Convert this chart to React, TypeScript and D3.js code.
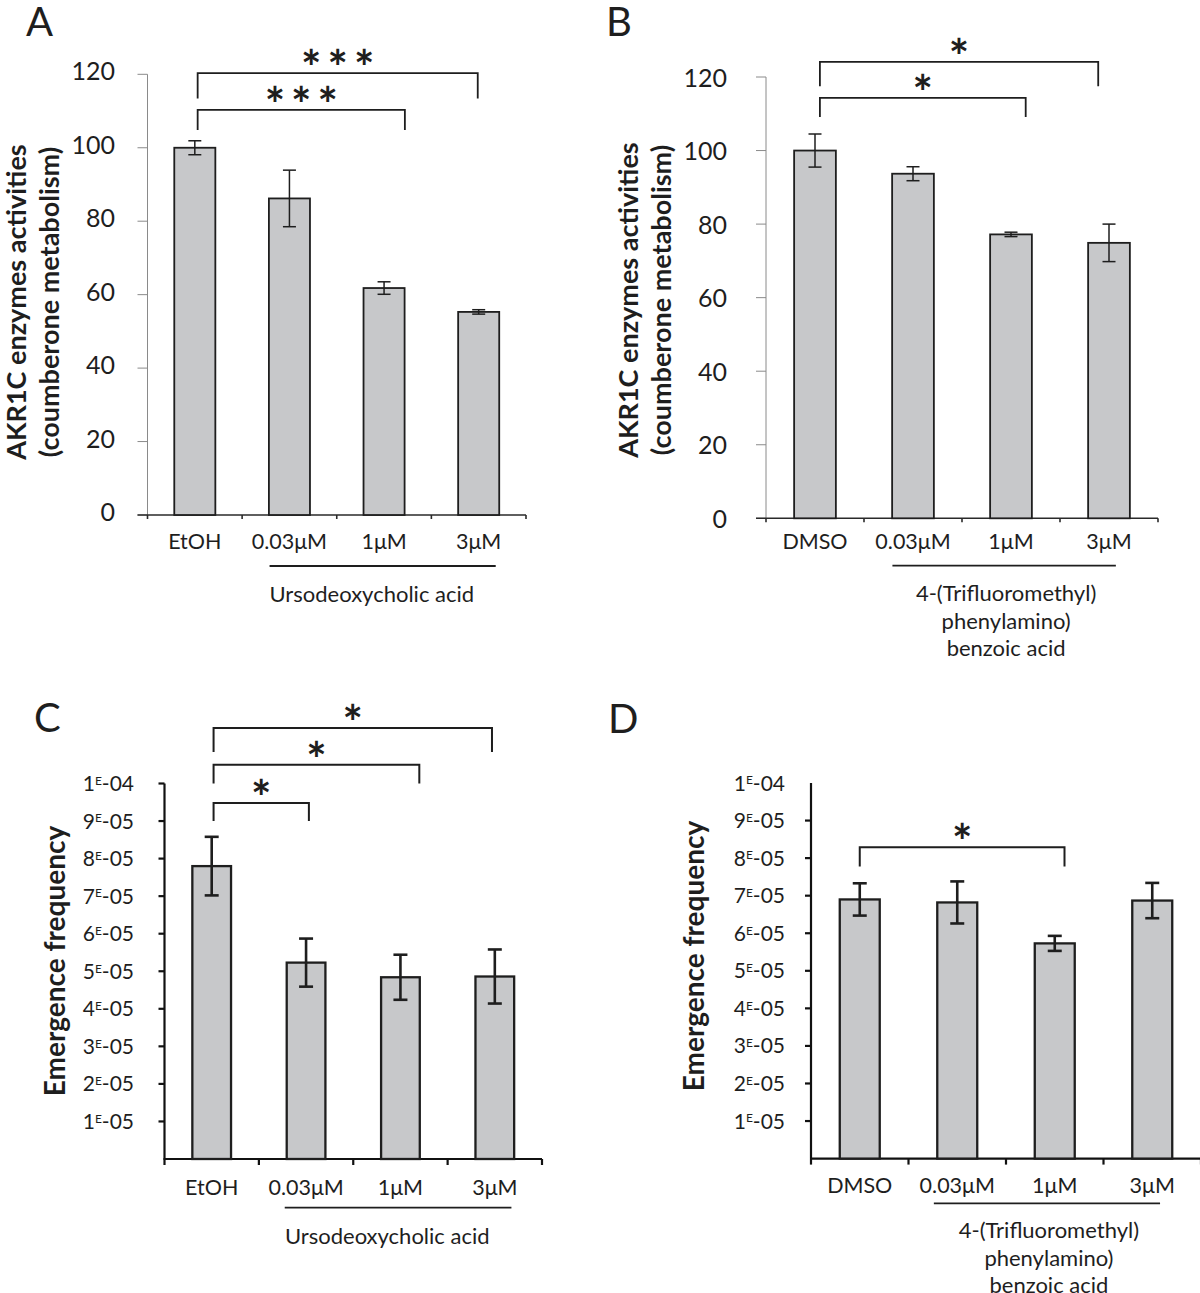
import React from "react";
import * as d3 from "d3";

// ---------- DATA ----------
const categoriesA = ["EtOH", "0.03μM", "1μM", "3μM"];
const valuesA = [100, 86.2, 61.8, 55.3];
const errorsA = [1.9, 7.7, 1.7, 0.6];
const ticksAB = [0, 20, 40, 60, 80, 100, 120];

const categoriesB = ["DMSO", "0.03μM", "1μM", "3μM"];
const valuesB = [100, 93.7, 77.2, 74.9];
const errorsB = [4.5, 1.9, 0.6, 5.1];

const categoriesC = ["EtOH", "0.03μM", "1μM", "3μM"];
const valuesC = [7.8e-5, 5.23e-5, 4.84e-5, 4.86e-5];
const errorsC = [0.78e-5, 0.64e-5, 0.6e-5, 0.72e-5];

const categoriesD = ["DMSO", "0.03μM", "1μM", "3μM"];
const valuesD = [6.9e-5, 6.82e-5, 5.73e-5, 6.87e-5];
const errorsD = [0.43e-5, 0.56e-5, 0.2e-5, 0.47e-5];

const ticksCD = [1e-5, 2e-5, 3e-5, 4e-5, 5e-5, 6e-5, 7e-5, 8e-5, 9e-5, 1e-4];
const tickLabelsCD = ["1|05", "2|05", "3|05", "4|05", "5|05", "6|05", "7|05", "8|05", "9|05", "1|04"];

const yTitleAB = ["AKR1C enzymes activities", "(coumberone metabolism)"];
const yTitleCD = ["Emergence frequency"];
const groupUDCA = ["Ursodeoxycholic acid"];
const groupTFM = ["4-(Trifluoromethyl)", "phenylamino)", "benzoic acid"];

// significance brackets: [from category, to category, bar height, leg bottom, label]
const bracketsA: [number, number, number, number, string][] = [
  [0.03, 2.22, 110.3, 104.8, "***"],
  [0.03, 2.99, 120.3, 113.4, "***"],
];
const bracketsB: [number, number, number, number, string][] = [
  [0.05, 2.15, 114.3, 109.1, "*"],
  [0.05, 2.89, 124.1, 117.5, "*"],
];
const bracketsC: [number, number, number, number, string][] = [
  [0.02, 1.03, 9.48e-5, 9.0e-5, "*"],
  [0.02, 2.2, 10.5e-5, 10.0e-5, "*"],
  [0.02, 2.97, 11.48e-5, 10.84e-5, "*"],
];
const bracketsD: [number, number, number, number, string][] = [
  [0, 2.1, 8.29e-5, 7.78e-5, "*"],
];

const FONT = "Lato, 'Open Sans', sans-serif";
const BAR_FILL = "#c7c8ca";
const INK = "#1e1e1e";

type Cfg = {
  label: string;
  labelX: number;
  labelY: number;
  categories: string[];
  values: number[];
  errors: number[];
  xLeft: number;
  xRight: number;
  yBottom: number;
  yTop: number;
  yMax: number;
  ticks: number[];
  tickLabels: string[];
  sci: boolean;
  tickFont: number;
  tickRight: number;
  tickShift: number;
  bold: boolean;
  barRatio: number;
  catLabelY: number;
  underline: [number, number, number];
  group: string[];
  groupX: number;
  groupY: number[];
  titleLines: string[];
  titleX: number[];
  titleY: number;
  titleFont: number;
  brackets: [number, number, number, number, string][];
  showTopTick: boolean;
};

function Panel({ c }: { c: Cfg }) {
  const x = d3.scaleBand().domain(c.categories).range([c.xLeft, c.xRight]).padding(0);
  const y = d3.scaleLinear().domain([0, c.yMax]).range([c.yBottom, c.yTop]);
  const step = x.step();
  const cu = (u: number) => (x(c.categories[0]) as number) + step / 2 + u * step;
  const bw = step * c.barRatio;
  const axisColor = c.bold ? "#111" : "#8a8a8a";
  const axisW = c.bold ? 2.2 : 1;
  const tickLen = c.bold ? 6 : 10;
  const xAxisColor = c.bold ? "#111" : "#2a2a2a";
  const xAxisW = c.bold ? 2.2 : 1.6;
  const barStroke = c.bold ? 2.3 : 1.8;
  const errW = c.bold ? 2.6 : 1.5;
  const capHalf = c.bold ? 7 : 6.5;
  const bounds = [...c.categories.map((k) => x(k) as number), c.xRight];
  const starSize = 48;

  return (
    <g>
      <text x={c.labelX} y={c.labelY} fontSize={40} fontFamily={FONT} fill={INK}>
        {c.label}
      </text>
      {/* y axis */}
      <line x1={c.xLeft} x2={c.xLeft} y1={y(c.yMax)} y2={c.yBottom} stroke={axisColor} strokeWidth={axisW} />
      {c.ticks.map((t, i) => (
        <g key={"t" + i}>
          {(c.showTopTick || t !== c.yMax) && (
            <line x1={c.xLeft - tickLen} x2={c.xLeft} y1={y(t)} y2={y(t)} stroke={axisColor} strokeWidth={axisW} />
          )}
          {c.sci ? (
            <text x={c.tickRight} y={y(t) + c.tickFont * 0.36 + c.tickShift} textAnchor="end" fontSize={c.tickFont} fontFamily={FONT} fill={INK}>
              {c.tickLabels[i].split("|")[0]}
              <tspan fontSize={12} dy={-6.3}>E</tspan>
              <tspan fontSize={c.tickFont} dy={6.3}>{"-" + c.tickLabels[i].split("|")[1]}</tspan>
            </text>
          ) : (
            <text x={c.tickRight} y={y(t) + c.tickFont * 0.36 + c.tickShift} textAnchor="end" fontSize={c.tickFont} fontFamily={FONT} fill={INK}>
              {c.tickLabels[i]}
            </text>
          )}
        </g>
      ))}
      {/* x axis */}
      <line x1={c.bold ? c.xLeft - 1 : c.xLeft - tickLen} x2={c.xRight} y1={c.yBottom} y2={c.yBottom} stroke={xAxisColor} strokeWidth={xAxisW} />
      {bounds.map((b, i) => (
        <line key={"xb" + i} x1={b} x2={b} y1={c.yBottom} y2={c.yBottom + (c.bold ? 6 : 4)} stroke={xAxisColor} strokeWidth={xAxisW} />
      ))}
      {/* bars */}
      {c.categories.map((k, i) => {
        const cx = (x(k) as number) + step / 2;
        return (
          <g key={"b" + i}>
            <rect x={cx - bw / 2} y={y(c.values[i])} width={bw} height={c.yBottom - y(c.values[i])} fill={BAR_FILL} stroke={INK} strokeWidth={barStroke} />
            <line x1={cx} x2={cx} y1={y(c.values[i] + c.errors[i])} y2={y(c.values[i] - c.errors[i])} stroke={INK} strokeWidth={errW} />
            <line x1={cx - capHalf} x2={cx + capHalf} y1={y(c.values[i] + c.errors[i])} y2={y(c.values[i] + c.errors[i])} stroke={INK} strokeWidth={errW} />
            <line x1={cx - capHalf} x2={cx + capHalf} y1={y(c.values[i] - c.errors[i])} y2={y(c.values[i] - c.errors[i])} stroke={INK} strokeWidth={errW} />
            <text x={cx} y={c.catLabelY + 21.5 * 0.36} textAnchor="middle" fontSize={21.5} fontFamily={FONT} fill={INK}>
              {k}
            </text>
          </g>
        );
      })}
      {/* underline and group label */}
      <line x1={cu(c.underline[0])} x2={cu(c.underline[1])} y1={c.underline[2]} y2={c.underline[2]} stroke={INK} strokeWidth={1.8} />
      {c.group.map((g, i) => (
        <text key={"g" + i} x={cu(c.groupX)} y={c.groupY[i] + 22 * 0.36} textAnchor="middle" fontSize={22} fontFamily={FONT} fill={INK}>
          {g}
        </text>
      ))}
      {/* brackets */}
      {c.brackets.map((br, i) => {
        const x1 = cu(br[0]);
        const x2 = cu(br[1]);
        const yb = y(br[2]);
        const yl = y(br[3]);
        const ls = br[4].length > 1 ? 6 : 0;
        return (
          <g key={"br" + i}>
            <path d={`M${x1},${yl}V${yb}H${x2}V${yl}`} fill="none" stroke={INK} strokeWidth={c.bold ? 2 : 1.8} />
            <text x={(x1 + x2) / 2 + ls / 2} y={yb + 12} textAnchor="middle" fontSize={starSize} fontWeight={700} fontFamily={FONT} fill={INK} letterSpacing={ls}>
              {br[4]}
            </text>
          </g>
        );
      })}
      {/* y title */}
      {c.titleLines.map((t, i) => (
        <text key={"yt" + i} transform={`translate(${c.titleX[i]},${c.titleY}) rotate(-90)`} textAnchor="middle" fontSize={c.titleFont} fontWeight={700} fontFamily={FONT} fill={INK}>
          {t}
        </text>
      ))}
    </g>
  );
}

const panelA: Cfg = {
  label: "A", labelX: 26, labelY: 36,
  categories: categoriesA, values: valuesA, errors: errorsA,
  xLeft: 147.5, xRight: 526, yBottom: 515, yTop: 74.3, yMax: 120,
  ticks: ticksAB, tickLabels: ticksAB.map(String), sci: false, tickFont: 25, tickRight: 115, tickShift: -3,
  bold: false, barRatio: 0.434, catLabelY: 541,
  underline: [0.79, 3.18, 566], group: groupUDCA, groupX: 1.87, groupY: [594],
  titleLines: yTitleAB, titleX: [26, 59], titleY: 302, titleFont: 27,
  brackets: bracketsA, showTopTick: true,
};
const panelB: Cfg = {
  label: "B", labelX: 606, labelY: 36,
  categories: categoriesB, values: valuesB, errors: errorsB,
  xLeft: 766, xRight: 1158, yBottom: 518.3, yTop: 77, yMax: 120,
  ticks: ticksAB, tickLabels: ticksAB.map(String), sci: false, tickFont: 25, tickRight: 727, tickShift: 0.5,
  bold: false, barRatio: 0.426, catLabelY: 541,
  underline: [0.79, 3.07, 565.6], group: groupTFM, groupX: 1.95, groupY: [593, 621, 648],
  titleLines: yTitleAB, titleX: [638, 671], titleY: 300, titleFont: 27,
  brackets: bracketsB, showTopTick: true,
};
const panelC: Cfg = {
  label: "C", labelX: 34, labelY: 732,
  categories: categoriesC, values: valuesC, errors: errorsC,
  xLeft: 164.5, xRight: 542, yBottom: 1159, yTop: 783.5, yMax: 1e-4,
  ticks: ticksCD, tickLabels: tickLabelsCD, sci: true, tickFont: 21, tickRight: 134, tickShift: 0,
  bold: true, barRatio: 0.41, catLabelY: 1187,
  underline: [0.774, 3.176, 1207.7], group: groupUDCA, groupX: 1.86, groupY: [1236],
  titleLines: yTitleCD, titleX: [65], titleY: 961, titleFont: 28,
  brackets: bracketsC, showTopTick: true,
};
const panelD: Cfg = {
  label: "D", labelX: 608, labelY: 733,
  categories: categoriesD, values: valuesD, errors: errorsD,
  xLeft: 811, xRight: 1201, yBottom: 1158.6, yTop: 783, yMax: 1e-4,
  ticks: ticksCD, tickLabels: tickLabelsCD, sci: true, tickFont: 21, tickRight: 785, tickShift: 0,
  bold: true, barRatio: 0.41, catLabelY: 1185,
  underline: [0.76, 3.08, 1203.4], group: groupTFM, groupX: 1.94, groupY: [1230, 1258, 1285],
  titleLines: yTitleCD, titleX: [704], titleY: 956, titleFont: 28,
  brackets: bracketsD, showTopTick: false,
};

export default function App() {
  return (
    <svg width={1200} height={1293} viewBox="0 0 1200 1293" style={{ position: "absolute", left: 0, top: 0, background: "#fff" }}>
      <rect width={1200} height={1293} fill="#fff" />
      <Panel c={panelA} />
      <Panel c={panelB} />
      <Panel c={panelC} />
      <Panel c={panelD} />
    </svg>
  );
}
